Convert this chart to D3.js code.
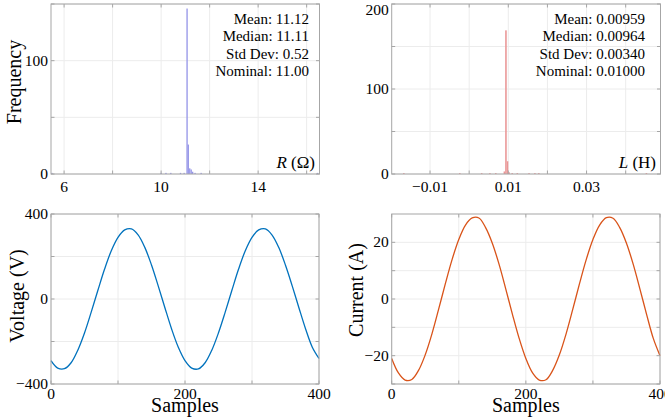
<!DOCTYPE html>
<html>
<head>
<meta charset="utf-8">
<script src="https://cdn.jsdelivr.net/npm/d3@7"></script>
<style>
  html, body { margin: 0; padding: 0; background: #fff; }
  svg { display: block; }
  text { font-family: "Liberation Serif", "Times New Roman", serif; fill: #000; }
</style>
</head>
<body>
<svg id="chart" width="665" height="420"></svg>
<script>
// ---------------- DATA ----------------
// Histogram of R (bin centres, counts)
const rBinCenters = [5.50, 10.00, 10.20, 10.40, 10.80, 10.95, 11.07, 11.12, 11.18, 11.24, 11.30, 11.40, 11.65, 16.45];
const rCounts     = [1,    1,     1,     1,     1,     1,     146,   26,    5,     4,     2,     1,     1,     1];
const rBinWidth = 0.055;
const rStats = ["Mean: 11.12", "Median: 11.11", "Std Dev: 0.52", "Nominal: 11.00"];

// Histogram of L (bin centres, counts)
const lBinCenters = [-0.0167, -0.0024, 0.0032, 0.0053, 0.0068, 0.0090, 0.0094, 0.0098, 0.0102, 0.0110, 0.0123, 0.0153, 0.0168, 0.0178, 0.0453];
const lCounts     = [1,       1,       1,      1,      1,      3,      169,    15,     2,      1,      1,      1,      1,      1,      1];
const lBinWidth = 0.0004;
const lStats = ["Mean: 0.00959", "Median: 0.00964", "Std Dev: 0.00340", "Nominal: 0.01000"];

// Waveforms (every 10 samples, 0..400)
const samples = d3.range(0, 401, 10);
const voltage = [-290, -325, -328, -300, -241, -160, -62, 41, 141, 227,
                  290,  325,  330,  302,  243,  160,  62, -41, -141, -227,
                 -290, -325, -329, -300, -241, -159, -62, 41, 141, 227,
                  290,  325,  330,  301,  242,  159,  62, -41, -141, -227, -280];
const current = [-21.0, -26.1, -28.6, -28.4, -25.2, -19.7, -12.3, -3.6, 5.4, 13.9,
                  21.0,  26.1,  28.6,  28.6,  25.2,  19.7,  12.3,  3.6, -5.4, -13.9,
                 -21.0, -26.1, -28.6, -28.5, -25.2, -19.7, -12.3, -3.6, 5.4, 13.9,
                  21.0,  26.1,  28.7,  28.5,  25.2,  19.7,  12.3,  3.6, -5.4, -13.9, -20.0];

// Axis ticks / labels
const rXGrid = [6, 8, 10, 12, 14, 16], rXLabels = [6, 10, 14];
const rYGrid = [0, 50, 100, 150],      rYLabels = [0, 100];
const lXGrid = [-0.01, 0, 0.01, 0.02, 0.03, 0.04], lXLabels = [-0.01, 0.01, 0.03];
const lYGrid = [0, 50, 100, 150, 200], lYLabels = [0, 100, 200];
const sXGrid = [0, 100, 200, 300, 400], sXLabels = [0, 200, 400];
const vYGrid = [-400, -200, 0, 200, 400], vYLabels = [-400, 0, 400];
const cYGrid = [-30, -20, -10, 0, 10, 20], cYLabels = [-20, 0, 20];

// ---------------- DRAW ----------------
const svg = d3.select("#chart");
const GRID = "#ececec", FRAME = "#a6a6a6";
const fmtTick = v => {
  const s = String(Math.abs(+v.toPrecision(6)));
  return (v < 0 ? "\u2212" : "") + s;
};

function panel(opt) {
  const g = svg.append("g");
  const x = d3.scaleLinear().domain(opt.xDomain).range([opt.x0, opt.x1]);
  const y = d3.scaleLinear().domain(opt.yDomain).range([opt.y1, opt.y0]);
  // grid
  g.selectAll(".gx").data(opt.xGrid).join("line")
    .attr("x1", d => x(d)).attr("x2", d => x(d)).attr("y1", opt.y0).attr("y2", opt.y1)
    .attr("stroke", GRID).attr("stroke-width", 1);
  g.selectAll(".gy").data(opt.yGrid).join("line")
    .attr("y1", d => y(d)).attr("y2", d => y(d)).attr("x1", opt.x0).attr("x2", opt.x1)
    .attr("stroke", GRID).attr("stroke-width", 1);
  opt.draw(g, x, y);
  // frame
  g.append("rect").attr("x", opt.x0).attr("y", opt.y0)
    .attr("width", opt.x1 - opt.x0).attr("height", opt.y1 - opt.y0)
    .attr("fill", "none").attr("stroke", FRAME).attr("stroke-width", 1);
  // inward ticks, all four sides
  const tl = 3.5;
  opt.xGrid.forEach(d => {
    if (d < opt.xDomain[0] || d > opt.xDomain[1]) return;
    g.append("line").attr("x1", x(d)).attr("x2", x(d)).attr("y1", opt.y1).attr("y2", opt.y1 - tl).attr("stroke", FRAME);
    g.append("line").attr("x1", x(d)).attr("x2", x(d)).attr("y1", opt.y0).attr("y2", opt.y0 + tl).attr("stroke", FRAME);
  });
  opt.yGrid.forEach(d => {
    if (d < opt.yDomain[0] || d > opt.yDomain[1]) return;
    g.append("line").attr("y1", y(d)).attr("y2", y(d)).attr("x1", opt.x0).attr("x2", opt.x0 + tl).attr("stroke", FRAME);
    g.append("line").attr("y1", y(d)).attr("y2", y(d)).attr("x1", opt.x1).attr("x2", opt.x1 - tl).attr("stroke", FRAME);
  });
  // tick labels
  g.selectAll(".xl").data(opt.xLabels).join("text")
    .attr("x", d => x(d)).attr("y", opt.y1 + opt.xTickDy)
    .attr("text-anchor", "middle").attr("font-size", 15.5).text(fmtTick);
  g.selectAll(".yl").data(opt.yLabels).join("text")
    .attr("x", opt.x0 - 3).attr("y", d => Math.max(y(d) + 5, 14.5))
    .attr("text-anchor", "end").attr("font-size", 15.5).text(fmtTick);
  // y label
  if (opt.yLabel) {
    g.append("text")
      .attr("transform", `translate(${opt.yLabelX},${opt.yLabelY}) rotate(-90)`)
      .attr("text-anchor", "middle").attr("font-size", 20).text(opt.yLabel);
  }
  if (opt.xLabel) {
    g.append("text").attr("x", (opt.x0 + opt.x1) / 2).attr("y", opt.y1 + 27.5)
      .attr("text-anchor", "middle").attr("font-size", 20).text(opt.xLabel);
  }
  return g;
}

function histDraw(centers, counts, w, color) {
  return (g, x, y) => {
    g.selectAll(".bar").data(centers).join("rect")
      .attr("x", d => x(d - w / 2))
      .attr("width", d => Math.max(0.8, x(d + w / 2) - x(d - w / 2)))
      .attr("y", (d, i) => y(counts[i]))
      .attr("height", (d, i) => y(0) - y(counts[i]))
      .attr("fill", color);
  };
}

function statsText(g, lines, xr) {
  lines.forEach((t, i) => {
    g.append("text").attr("x", xr).attr("y", 24 + i * 17.4)
      .attr("text-anchor", "end").attr("font-size", 15).text(t);
  });
}

function varLabel(g, xr, sym, unit) {
  const t = g.append("text").attr("x", xr).attr("y", 168)
    .attr("text-anchor", "end").attr("font-size", 17);
  t.append("tspan").attr("font-style", "italic").text(sym);
  t.append("tspan").text(" (" + unit + ")");
}

// Top-left: R histogram
const gR = panel({
  x0: 51, x1: 319.5, y0: 4, y1: 174, xTickDy: 18,
  xDomain: [5.46, 16.53], yDomain: [0, 150],
  xGrid: rXGrid, xLabels: rXLabels, yGrid: rYGrid, yLabels: rYLabels,
  yLabel: "Frequency", yLabelX: 21, yLabelY: 82,
  draw: histDraw(rBinCenters, rCounts, rBinWidth, "rgb(150,150,232)")
});
statsText(gR, rStats, 309);
varLabel(gR, 315, "R", "\u03A9");

// Top-right: L histogram
const gL = panel({
  x0: 391.7, x1: 660.5, y0: 4, y1: 174, xTickDy: 18,
  xDomain: [-0.0198, 0.0489], yDomain: [0, 200],
  xGrid: lXGrid, xLabels: lXLabels, yGrid: lYGrid, yLabels: lYLabels,
  yLabel: "", yLabelX: 360, yLabelY: 90,
  draw: histDraw(lBinCenters, lCounts, lBinWidth, "rgb(234,150,150)")
});
statsText(gL, lStats, 645);
varLabel(gL, 656, "L", "H");

function lineDraw(vals, color) {
  return (g, x, y) => {
    const line = d3.line().x((d, i) => x(samples[i])).y(d => y(d)).curve(d3.curveCatmullRom);
    g.append("path").datum(vals).attr("d", line)
      .attr("fill", "none").attr("stroke", color).attr("stroke-width", 1.3);
  };
}

// Bottom-left: Voltage
panel({
  x0: 51, x1: 319, y0: 214, y1: 384, xTickDy: 14.5,
  xDomain: [0, 400], yDomain: [-400, 400],
  xGrid: sXGrid, xLabels: sXLabels, yGrid: vYGrid, yLabels: vYLabels,
  yLabel: "Voltage (V)", yLabelX: 24, yLabelY: 296, xLabel: "Samples",
  draw: lineDraw(voltage, "#0072BD")
});

// Bottom-right: Current
panel({
  x0: 391.7, x1: 660, y0: 214, y1: 384, xTickDy: 14.5,
  xDomain: [0, 400], yDomain: [-30, 30],
  xGrid: sXGrid, xLabels: sXLabels, yGrid: cYGrid, yLabels: cYLabels,
  yLabel: "Current (A)", yLabelX: 363, yLabelY: 290, xLabel: "Samples",
  draw: lineDraw(current, "#D95319")
});
</script>
</body>
</html>
